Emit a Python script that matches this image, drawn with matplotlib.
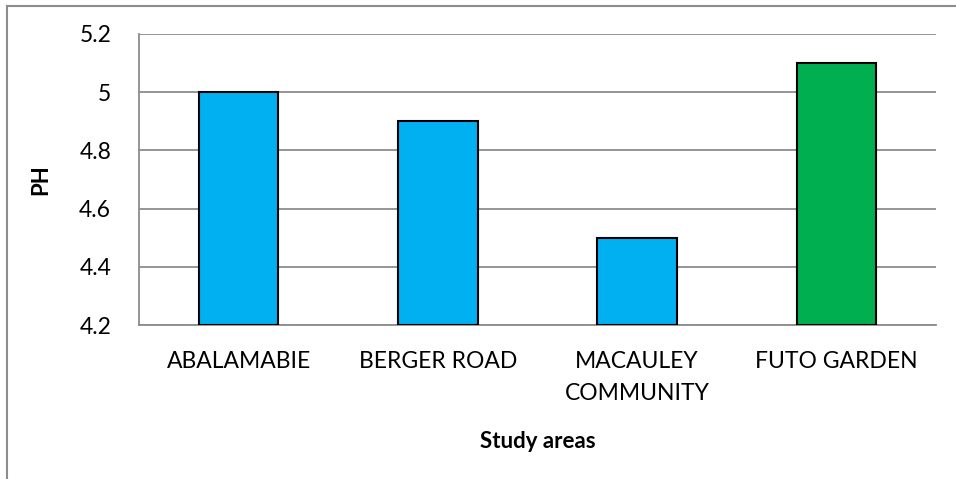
import matplotlib
matplotlib.use("Agg")
from matplotlib import pyplot as plt
from matplotlib.lines import Line2D

# pH of soil samples per study area
areas = ["ABALAMABIE", "BERGER ROAD", "MACAULEY\nCOMMUNITY", "FUTO GARDEN"]
ph_values = [5.0, 4.9, 4.5, 5.1]
bar_colors = ["#00B0F0", "#00B0F0", "#00B0F0", "#00B050"]
y_ticks = [4.2, 4.4, 4.6, 4.8, 5.0, 5.2]
y_tick_labels = ["4.2", "4.4", "4.6", "4.8", "5", "5.2"]

plt.rcParams['font.family'] = ['Lato', 'DejaVu Sans']

W, H = 956, 479
fig = plt.figure(figsize=(W / 100, H / 100), dpi=100, facecolor="white")
ax = fig.add_axes([139 / W, 1 - 325 / H, (936 - 139) / W, (325 - 34) / H])

x = range(len(areas))
ax.bar(x, [v - 4.2 for v in ph_values], bottom=4.2, width=0.4,
       color=bar_colors, edgecolor="black", linewidth=1.5, zorder=3)

ax.set_xlim(-0.5, len(areas) - 0.5)
ax.set_ylim(4.2, 5.2)
ax.set_yticks(y_ticks)
ax.set_yticklabels(y_tick_labels, fontsize=16.5)
ax.set_xticks(list(x))
ax.set_xticklabels(areas, fontsize=16.5, linespacing=1.6)
ax.tick_params(length=0)
ax.tick_params(axis="x", pad=19)
ax.tick_params(axis="y", pad=20)
ax.grid(axis="y", color="#8c8c8c", linewidth=1.3, zorder=0)

for side in ["top", "right"]:
    ax.spines[side].set_visible(False)
for side in ["left", "bottom"]:
    ax.spines[side].set_color("#8c8c8c")
    ax.spines[side].set_linewidth(1.3)

ax.set_ylabel("PH", fontsize=16, fontweight="bold", labelpad=20)
ax.set_xlabel("Study areas", fontsize=16, fontweight="bold", labelpad=20)

# chart frame
fig.add_artist(Line2D([7 / W, 7 / W], [0, 1 - 6 / H], transform=fig.transFigure,
                      color="#8c8c8c", linewidth=1.5))
fig.add_artist(Line2D([7 / W, 1], [1 - 6 / H, 1 - 6 / H], transform=fig.transFigure,
                      color="#8c8c8c", linewidth=1.5))

plt.savefig("out.png", dpi=100)
plt.close()
